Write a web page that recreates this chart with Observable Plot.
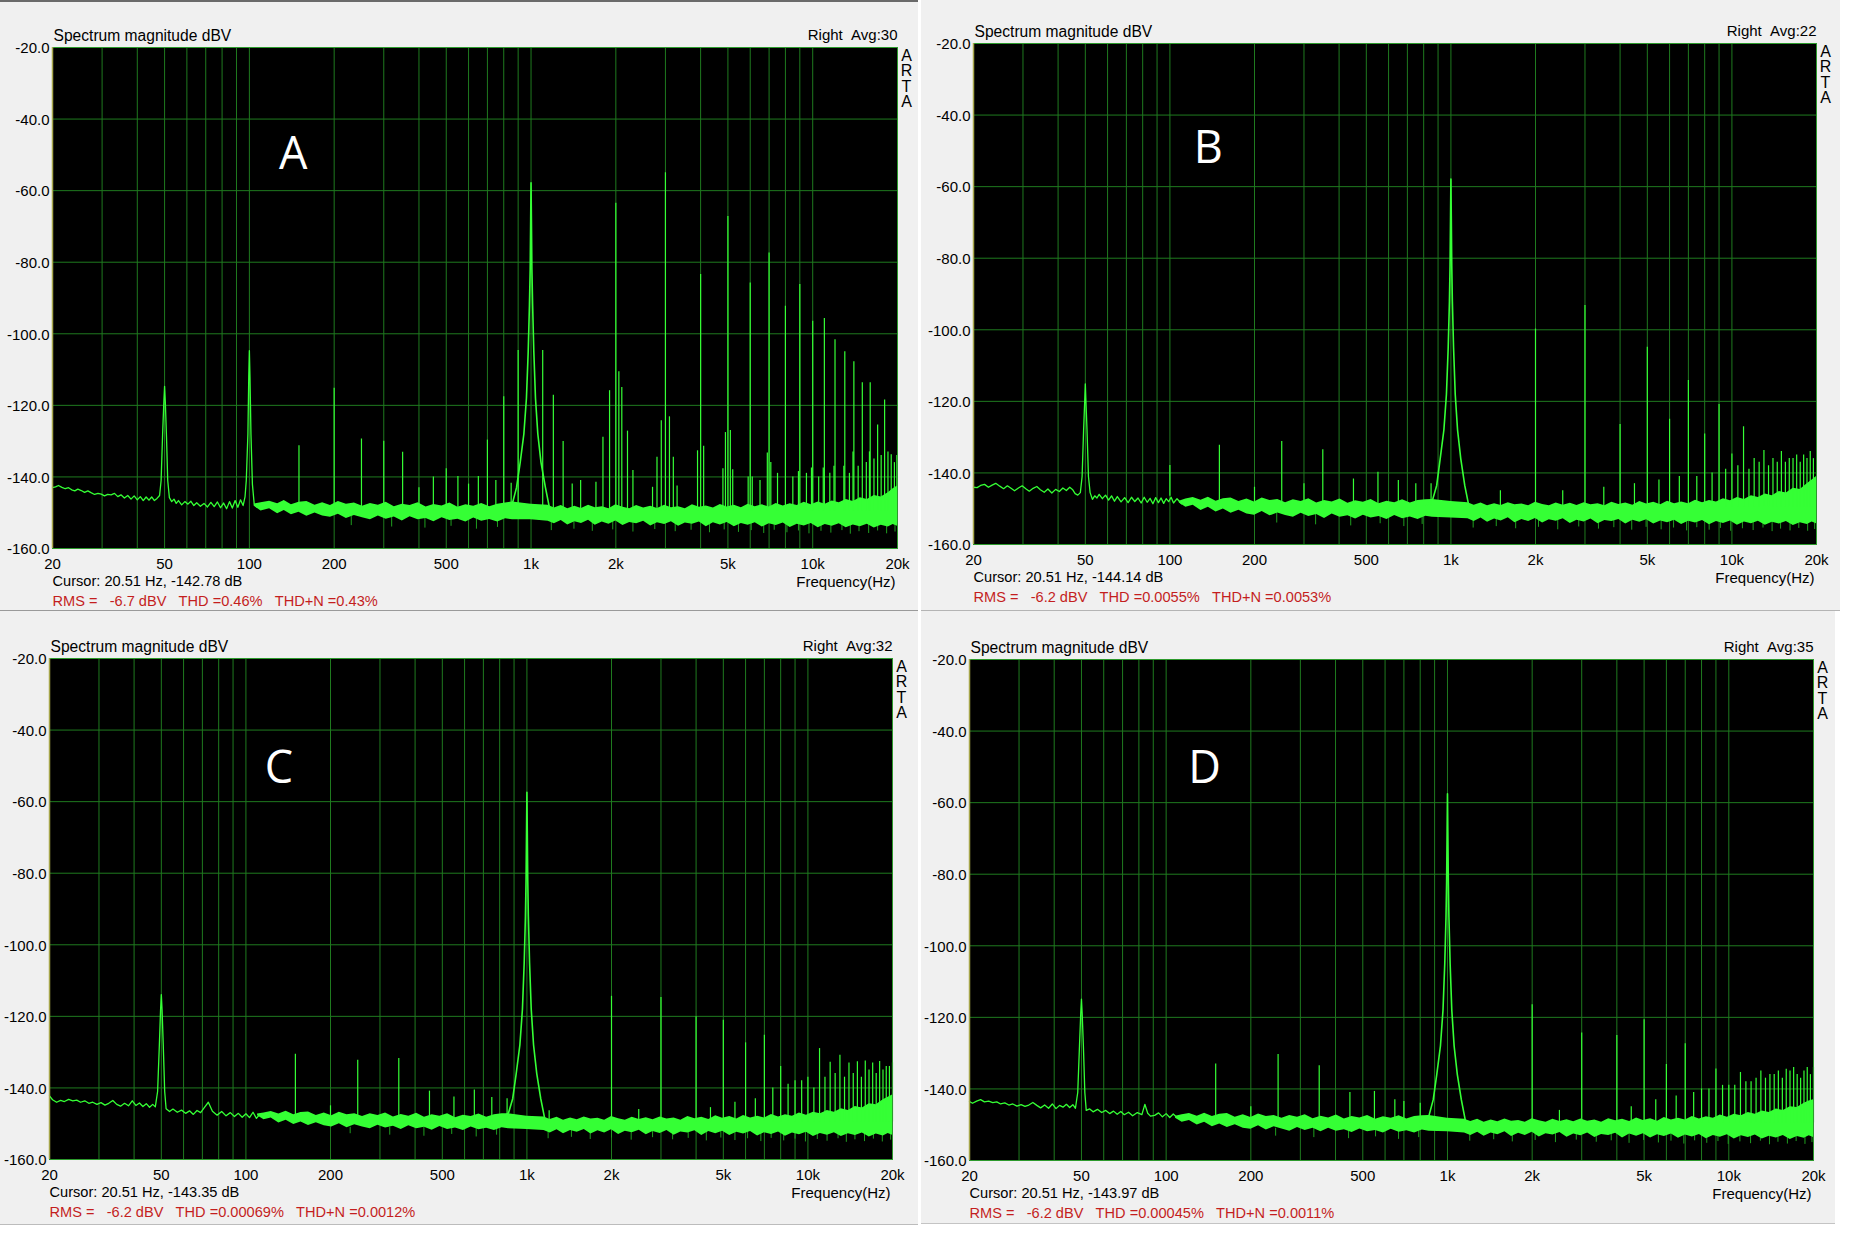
<!DOCTYPE html>
<html><head><meta charset="utf-8">
<script src="https://cdn.jsdelivr.net/npm/d3@7"></script>
<script src="https://cdn.jsdelivr.net/npm/@observablehq/plot@0.6"></script>
<style>
html,body{margin:0;padding:0;background:#fff;}
#root{position:relative;width:1850px;height:1250px;overflow:hidden;background:#fff;}
.win{position:absolute;background:#f0f0f0;}
.win svg{display:block;}
.sep{position:absolute;}
</style></head><body><div id="root"></div>
<script>
// ---------- axes / ticks ----------
const xTickValues = [20, 50, 100, 200, 500, 1000, 2000, 5000, 10000, 20000];
const xTickLabels = ["20", "50", "100", "200", "500", "1k", "2k", "5k", "10k", "20k"];
const dbTicks = [-20, -40, -60, -80, -100, -120, -140, -160];
const dbGrid = [-40, -60, -80, -100, -120, -140];
const gridFreqs = [30,40,50,60,70,80,90,100,200,300,400,500,600,700,800,900,1000,2000,3000,4000,5000,6000,7000,8000,9000,10000];

// ---------- texts ----------
const titleText = "Spectrum magnitude dBV";
const freqLabel = "Frequency(Hz)";
const artaText = "A\nR\nT\nA";
const avgTexts = ["Right  Avg:30", "Right  Avg:22", "Right  Avg:32", "Right  Avg:35"];
const cursorTexts = ["Cursor: 20.51 Hz, -142.78 dB", "Cursor: 20.51 Hz, -144.14 dB", "Cursor: 20.51 Hz, -143.35 dB", "Cursor: 20.51 Hz, -143.97 dB"];
const rmsTexts = [
  "RMS =   -6.7 dBV   THD =0.46%   THD+N =0.43%",
  "RMS =   -6.2 dBV   THD =0.0055%   THD+N =0.0053%",
  "RMS =   -6.2 dBV   THD =0.00069%   THD+N =0.0012%",
  "RMS =   -6.2 dBV   THD =0.00045%   THD+N =0.0011%"
];
// panel letter: [text, freq, dB]
const letters = [["A", 143, -50.0], ["B", 137, -49.5], ["C", 131, -50.8], ["D", 137, -50.5]];

// ---------- panel A data ----------
const lowA = [[20,-143.0],[20.5,-142.8],[21,-142.4],[21.6,-142.9],[22.2,-143.3],[22.8,-143.0],[23.4,-143.6],[24,-143.9],[24.6,-143.4],[25.3,-143.8],[26,-144.3],[26.7,-143.9],[27.4,-144.4],[28.2,-144.9],[29,-144.6],[29.8,-144.8],[30.6,-145.3],[31.4,-144.9],[32.3,-145.0],[33.2,-144.6],[34.1,-145.5],[35,-145.0],[36,-145.9],[37,-145.2],[38,-146.2],[39,-145.3],[40,-146.4],[41,-145.5],[42,-146.6],[43,-145.6],[44,-146.5],[45,-145.6],[46,-146.6],[47,-146.0],[48,-145.2],[48.6,-141],[49.2,-128],[49.7,-119],[50,-114.7],[50.3,-119],[50.8,-129],[51.3,-141],[52,-145.8],[53,-146.9],[54,-146.2],[55,-147.4],[56,-146.6],[57.5,-147.8],[59,-146.9],[60.5,-147.6],[62,-146.8],[63.5,-148.0],[65,-147.2],[67,-148.2],[69,-147.4],[71,-148.4],[73,-147.1],[75,-148.3],[77,-147.0],[79,-148.6],[81,-147.3],[83,-148.9],[85,-146.9],[87,-148.7],[89,-146.6],[91,-148.5],[93,-146.4],[95,-148.0],[96.5,-145.6],[97.5,-141],[98.8,-128],[99.5,-112],[100,-104.7],[100.5,-112],[101.3,-128],[102.5,-142],[104,-147.5],[106,-148.4],[108,-147.8],[110,-148.9]];
const bandA = [[104,-148.2,-147.6],[110,-149.5,-147.2],[118,-148.9,-146.8],[126,-150.3,-147.5],[133,-149.4,-146.6],[141,-150.6,-147.8],[150,-149.9,-147.1],[160,-151.0,-146.9],[171,-150.1,-147.9],[182,-150.9,-147.2],[194,-151.3,-148.0],[207,-150.4,-146.9],[221,-151.6,-147.6],[236,-150.8,-147.3],[252,-151.4,-148.2],[269,-152.0,-147.4],[287,-150.9,-147.9],[306,-151.8,-147.1],[327,-151.2,-148.3],[349,-152.3,-147.6],[372,-151.1,-148.0],[397,-152.0,-147.2],[424,-151.6,-148.4],[452,-152.5,-147.7],[483,-151.4,-148.1],[515,-152.2,-147.3],[550,-151.8,-148.5],[587,-152.6,-147.8],[626,-151.5,-148.2],[668,-152.4,-147.4],[713,-151.9,-148.3],[761,-152.6,-147.6],[812,-151.7,-147.3],[860,-152.0,-147.0],[1000,-152.0,-147.6],[1150,-152.4,-147.9],[1210,-153.1,-148.7],[1280,-152.2,-148.0],[1350,-153.4,-148.9],[1430,-152.5,-148.2],[1510,-153.0,-148.8],[1600,-152.1,-147.9],[1690,-153.5,-148.6],[1790,-152.6,-148.3],[1890,-153.2,-148.9],[2000,-152.3,-147.8],[2120,-153.6,-148.5],[2240,-152.7,-148.9],[2370,-153.1,-148.0],[2510,-152.4,-148.7],[2660,-153.7,-148.2],[2810,-152.8,-148.8],[2980,-153.3,-147.9],[3150,-152.5,-148.6],[3340,-153.8,-148.3],[3530,-152.9,-148.9],[3740,-153.2,-147.8],[3960,-152.6,-148.5],[4190,-153.9,-148.1],[4440,-152.8,-148.7],[4700,-153.4,-147.7],[4970,-152.7,-148.4],[5270,-153.9,-147.9],[5580,-153.0,-148.6],[5900,-153.5,-147.6],[6250,-152.8,-148.3],[6620,-154.0,-147.8],[7010,-153.1,-148.4],[7420,-153.6,-147.4],[7860,-152.9,-148.1],[8320,-154.1,-147.5],[8810,-153.2,-148.0],[9330,-153.7,-147.1],[9880,-153.0,-147.8],[10460,-154.2,-147.0],[11080,-153.3,-147.6],[11730,-153.8,-146.7],[12420,-153.1,-147.2],[13150,-154.2,-146.3],[13930,-153.4,-146.9],[14750,-153.9,-145.8],[15620,-153.2,-146.3],[16540,-154.3,-145.2],[17510,-153.5,-145.6],[18540,-154.0,-144.4],[19300,-153.3,-143.3],[20000,-153.8,-142.5]];
const dipsA = [[230,-153.6],[320,-154.0],[420,-154.3],[520,-153.8],[640,-154.6],[760,-154.1],[1180,-155.0],[1420,-154.6],[1650,-155.2],[1950,-154.8],[2300,-155.4],[2750,-154.7],[3250,-155.3],[3700,-154.9],[4300,-155.6],[4850,-154.8],[5450,-155.5],[6050,-155.0],[6700,-155.8],[7300,-154.9],[8100,-155.6],[8900,-155.1],[9700,-155.9],[10700,-155.2],[11600,-155.7],[12700,-155.0],[13600,-156.0],[14600,-155.3],[15800,-155.8],[17000,-155.1],[18300,-155.9],[19600,-155.4]];
const skirtA = [[820,-148.8],[860,-147.2],[888,-143],[915,-136],[943,-128],[963,-118],[977,-105],[987,-92],[993,-82],[997,-68],[1000,-57.8],[1003,-68],[1007,-82],[1013,-92],[1023,-105],[1037,-118],[1057,-128],[1085,-136],[1125,-143],[1165,-149]];
const spikesA = [[150,-131.3],[200,-115.2],[250,-129.4],[300,-130],[350,-133.1],[400,-143],[450,-140],[500,-137.7],[550,-139.9],[600,-142],[650,-139.9],[700,-129.7],[750,-141],[800,-117.6],[850,-141.8],[900,-104.7],[1100,-104.7],[1200,-117.2],[1300,-130.1],[1400,-142],[1500,-141],[1700,-141.5],[1800,-128.9],[1900,-115.9],[2000,-63.5],[2050,-110.6],[2100,-115],[2200,-127.2],[2300,-138.2],[2700,-142.9],[2800,-134.5],[2900,-124.3],[3000,-55.0],[3100,-123.2],[3200,-134.5],[3300,-142.5],[3900,-132.7],[4000,-83.4],[4100,-131.4],[4800,-137.7],[4900,-127.6],[5000,-67.2],[5100,-127],[5200,-138],[5900,-140],[6000,-85.8],[6100,-140],[6500,-141],[6900,-133.3],[7000,-77.4],[7100,-136],[7500,-139],[8000,-92.3],[8500,-140],[8900,-138.5],[9000,-86.2],[9500,-139],[9900,-137.5],[10000,-96.5],[10500,-140],[10900,-137.5],[11000,-95.7],[11500,-139],[11900,-137],[12000,-101.7],[12900,-137],[13000,-105],[13500,-139],[13900,-133],[14000,-107.8],[14500,-137],[15000,-113.7],[15500,-136],[15900,-133],[16000,-113.7],[16500,-135],[17000,-125.5],[17500,-134],[18000,-118.5],[18500,-133],[19000,-133.8],[19500,-136],[19900,-134]];

// ---------- panel B data ----------
const lowB = [[20,-144.0],[20.6,-144.1],[21.2,-143.5],[21.9,-143.2],[22.6,-144.0],[23.3,-143.4],[24,-142.9],[24.8,-143.7],[25.6,-144.4],[26.4,-143.6],[27.2,-144.3],[28,-145.0],[28.9,-144.2],[29.8,-143.6],[30.7,-144.4],[31.6,-145.1],[32.6,-144.3],[33.6,-143.8],[34.6,-144.7],[35.7,-145.4],[36.8,-144.5],[38,-145.6],[39.2,-144.6],[40.4,-145.2],[41.6,-144.2],[42.8,-144.9],[44,-144.0],[45,-144.6],[46,-145.8],[47,-146.2],[48,-145.5],[48.7,-141],[49.3,-128],[49.8,-119],[50,-115.1],[50.2,-119],[50.7,-128],[51.3,-141],[52,-145.5],[53,-147.4],[54,-146.4],[55,-147.0],[56,-146.0],[57.5,-147.2],[59,-146.2],[60.5,-147.6],[62,-146.4],[63.5,-147.9],[65,-146.6],[67,-148.1],[69,-146.9],[71,-148.3],[73,-146.8],[75,-148.0],[77,-147.0],[79,-148.4],[81,-146.8],[83,-148.2],[85,-147.1],[87,-148.6],[89,-146.9],[91,-148.3],[93,-147.0],[95,-148.5],[97,-147.2],[99,-148.0],[101,-146.8],[103,-148.4],[106,-147.2],[110,-148.6]];
const bandB = [[108,-148.4,-147.9],[114,-149.6,-147.3],[121,-149.0,-146.9],[129,-150.5,-147.6],[137,-149.6,-146.8],[146,-150.9,-147.9],[155,-150.1,-147.2],[165,-151.3,-147.0],[176,-150.4,-148.0],[188,-151.5,-147.3],[200,-151.8,-148.1],[213,-150.8,-147.0],[227,-152.0,-147.7],[242,-151.2,-147.4],[258,-151.9,-148.3],[275,-152.4,-147.5],[293,-151.3,-148.0],[312,-152.2,-147.2],[333,-151.6,-148.4],[355,-152.7,-147.7],[378,-151.5,-148.1],[403,-152.4,-147.3],[430,-152.0,-148.5],[458,-152.9,-147.8],[488,-151.8,-148.2],[520,-152.6,-147.4],[555,-152.2,-148.6],[592,-153.0,-147.9],[631,-151.9,-148.3],[673,-152.8,-147.5],[717,-152.3,-148.4],[764,-153.0,-147.7],[814,-152.1,-147.5],[860,-152.4,-147.4],[1000,-152.6,-148.0],[1150,-152.8,-148.3],[1210,-153.6,-149.0],[1280,-152.6,-148.4],[1350,-153.8,-149.2],[1430,-152.9,-148.6],[1510,-153.4,-149.1],[1600,-152.5,-148.3],[1690,-153.9,-148.9],[1790,-153.0,-148.7],[1890,-153.6,-149.2],[2000,-152.7,-148.2],[2120,-154.0,-148.8],[2240,-153.1,-149.2],[2370,-153.5,-148.4],[2510,-152.8,-149.0],[2660,-154.1,-148.5],[2810,-153.2,-149.1],[2980,-153.7,-148.3],[3150,-152.9,-148.9],[3340,-154.2,-148.6],[3530,-153.3,-149.2],[3740,-153.6,-148.2],[3960,-153.0,-148.8],[4190,-154.3,-148.4],[4440,-153.2,-149.0],[4700,-153.8,-148.0],[4970,-153.1,-148.7],[5270,-154.3,-148.2],[5580,-153.4,-148.9],[5900,-153.9,-147.9],[6250,-153.2,-148.6],[6620,-154.4,-148.1],[7010,-153.5,-148.6],[7420,-154.0,-147.6],[7860,-153.3,-148.3],[8320,-154.5,-147.7],[8810,-153.6,-148.1],[9330,-154.1,-147.2],[9880,-153.4,-147.8],[10460,-154.6,-146.9],[11080,-153.7,-147.4],[11730,-154.2,-146.4],[12420,-153.5,-146.9],[13150,-154.6,-145.9],[13930,-153.8,-146.4],[14750,-154.3,-145.2],[15620,-153.6,-145.6],[16540,-154.7,-144.3],[17510,-153.9,-144.6],[18540,-154.4,-143.0],[19300,-153.7,-142.0],[20000,-154.2,-141.0]];
const dipsB = [[240,-154.0],[330,-154.5],[440,-154.8],[560,-154.2],[680,-155.0],[790,-154.4],[1200,-155.4],[1450,-155.0],[1700,-155.6],[2050,-155.2],[2400,-155.9],[2850,-155.1],[3350,-155.7],[3800,-155.3],[4400,-156.0],[4950,-155.2],[5600,-155.9],[6200,-155.4],[6900,-156.2],[7500,-155.3],[8300,-156.0],[9100,-155.5],[9900,-156.3],[10900,-155.6],[11900,-156.1],[12900,-155.4],[13900,-156.4],[14900,-155.7],[16100,-156.2],[17300,-155.5],[18600,-156.3],[19700,-155.8]];
const skirtB = [[820,-149],[860,-147.6],[890,-143.5],[916,-136],[944,-128],[964,-118],[978,-105],[988,-92],[993,-82],[997,-68],[1000,-57.9],[1003,-68],[1007,-82],[1012,-92],[1022,-105],[1036,-118],[1056,-128],[1084,-136],[1120,-143.5],[1160,-149.5]];
const spikesB = [[100,-137.9],[150,-132.3],[200,-144],[250,-131.2],[300,-143],[350,-133.5],[450,-141.7],[550,-139.8],[650,-142.1],[750,-143],[850,-143],[1500,-145],[2000,-99.8],[2500,-145],[3000,-93.2],[3500,-144],[4000,-126.5],[4500,-143],[5000,-104.9],[5500,-142],[6000,-125],[6500,-141],[7000,-114.2],[7500,-141],[8000,-129.1],[8500,-140],[9000,-120.9],[9500,-139],[10000,-134.7],[10500,-138],[11000,-127.1],[11500,-139],[12000,-136],[12500,-137],[13000,-133.7],[13500,-138],[14000,-136],[14500,-137],[15000,-134],[15500,-137],[16000,-136],[16500,-136],[17000,-135],[17500,-137],[18000,-135],[18500,-136],[19000,-134],[19500,-136]];

// ---------- panel C data ----------
const lowC = [[20,-142.2],[20.5,-143.3],[21.2,-144.0],[21.9,-143.5],[22.6,-143.8],[23.4,-143.2],[24.2,-143.6],[25,-143.4],[25.8,-144.0],[26.7,-143.6],[27.6,-144.3],[28.5,-144.0],[29.5,-144.6],[30.5,-144.1],[31.5,-144.8],[32.5,-144.3],[33.6,-143.5],[34.7,-144.6],[35.8,-145.1],[37,-144.3],[38.2,-145.0],[39.4,-143.6],[40.6,-144.9],[41.8,-144.2],[43,-145.2],[44.2,-144.4],[45.4,-145.4],[46.6,-144.6],[47.6,-145.3],[48.5,-141],[49.2,-128],[49.7,-118],[50,-113.9],[50.3,-118],[50.8,-128],[51.4,-141],[52,-145.8],[53.5,-146.6],[55,-145.9],[57,-146.8],[59,-146.2],[61,-147.1],[63,-146.4],[65,-147.4],[67,-146.3],[69,-146.9],[71,-145.6],[73.5,-144.0],[76,-146.5],[79,-147.6],[82,-146.6],[85,-147.8],[88,-146.9],[91,-148.0],[94,-147.1],[97,-148.2],[100,-147.2],[103,-148.3],[106,-146.8],[109,-148.5],[112,-147.4]];
const bandC = [[110,-147.8,-147.3],[116,-148.9,-147.0],[123,-148.4,-146.6],[131,-149.8,-147.3],[139,-149.0,-146.5],[148,-150.2,-147.5],[157,-149.5,-146.9],[167,-150.5,-146.7],[178,-149.7,-147.7],[190,-150.6,-147.0],[202,-150.9,-147.8],[215,-150.0,-146.8],[229,-151.1,-147.5],[244,-150.3,-147.2],[260,-150.9,-148.0],[277,-151.4,-147.2],[295,-150.4,-147.7],[314,-151.2,-147.0],[335,-150.7,-148.1],[357,-151.6,-147.4],[380,-150.6,-147.9],[405,-151.4,-147.1],[432,-151.0,-148.2],[460,-151.8,-147.5],[490,-150.8,-147.9],[522,-151.6,-147.2],[557,-151.2,-148.3],[594,-151.9,-147.6],[633,-150.9,-148.0],[675,-151.7,-147.3],[719,-151.3,-148.2],[766,-151.9,-147.5],[816,-151.1,-147.2],[860,-151.4,-147.2],[1000,-151.6,-147.9],[1150,-151.9,-148.1],[1210,-152.6,-148.8],[1280,-151.7,-148.2],[1350,-152.8,-149.0],[1430,-151.9,-148.4],[1510,-152.4,-148.9],[1600,-151.6,-148.1],[1690,-152.9,-148.7],[1790,-152.0,-148.5],[1890,-152.6,-149.0],[2000,-151.7,-148.0],[2120,-153.0,-148.6],[2240,-152.1,-149.0],[2370,-152.5,-148.2],[2510,-151.8,-148.8],[2660,-153.1,-148.3],[2810,-152.2,-148.9],[2980,-152.7,-148.1],[3150,-151.9,-148.7],[3340,-153.2,-148.4],[3530,-152.3,-149.0],[3740,-152.6,-148.0],[3960,-152.0,-148.6],[4190,-153.3,-148.2],[4440,-152.2,-148.8],[4700,-152.8,-147.8],[4970,-152.1,-148.5],[5270,-153.3,-148.0],[5580,-152.4,-148.7],[5900,-152.9,-147.7],[6250,-152.2,-148.4],[6620,-153.4,-147.9],[7010,-152.5,-148.4],[7420,-153.0,-147.4],[7860,-152.3,-148.1],[8320,-153.5,-147.5],[8810,-152.6,-147.9],[9330,-153.1,-147.0],[9880,-152.4,-147.6],[10460,-153.6,-146.8],[11080,-152.7,-147.2],[11730,-153.2,-146.3],[12420,-152.5,-146.8],[13150,-153.6,-145.8],[13930,-152.8,-146.3],[14750,-153.3,-145.2],[15620,-152.6,-145.6],[16540,-153.7,-144.4],[17510,-152.9,-144.7],[18540,-153.4,-143.3],[19300,-152.7,-142.6],[20000,-153.2,-142.0]];
const dipsC = [[235,-152.8],[325,-153.2],[430,-153.5],[540,-153.0],[660,-153.7],[780,-153.2],[1190,-154.2],[1440,-153.8],[1680,-154.4],[2000,-154.0],[2350,-154.6],[2800,-153.9],[3300,-154.5],[3750,-154.1],[4350,-154.8],[4900,-154.0],[5500,-154.7],[6100,-154.2],[6800,-155.0],[7400,-154.1],[8200,-154.8],[9000,-154.3],[9800,-155.1],[10800,-154.4],[11700,-154.9],[12800,-154.2],[13700,-155.2],[14700,-154.5],[15900,-155.0],[17100,-154.3],[18400,-155.1],[19700,-154.6]];
const skirtC = [[820,-148.4],[860,-147.0],[890,-143],[916,-136],[944,-128],[964,-118],[978,-105],[988,-92],[993,-82],[997,-68],[1000,-57.4],[1003,-68],[1007,-82],[1012,-92],[1022,-105],[1036,-118],[1056,-128],[1084,-136],[1120,-143],[1160,-149]];
const spikesC = [[150,-130.6],[200,-145],[250,-132.3],[350,-131.8],[450,-140.9],[550,-142.5],[650,-140.6],[750,-142.7],[850,-143],[1200,-146.4],[2000,-114.4],[2500,-146],[3000,-114.7],[4000,-120.1],[4500,-145.5],[5000,-121.1],[5500,-144],[6000,-127.4],[6500,-143],[7000,-125.3],[7500,-140],[8000,-134],[8500,-139],[9000,-138],[9500,-138],[10000,-137],[10500,-140],[11000,-129],[11500,-137],[12000,-132.8],[12500,-136],[13000,-130.9],[13500,-137],[14000,-133],[14500,-136],[15000,-132.7],[15500,-137],[16000,-132.5],[16500,-135],[17000,-133],[17500,-136],[18000,-132.6],[18500,-135],[19000,-134],[19500,-134],[20000,-133]];

// ---------- panel D data ----------
const lowD = [[20,-143.5],[20.5,-144.0],[21.2,-143.4],[21.9,-143.0],[22.6,-143.6],[23.4,-143.4],[24.2,-143.8],[25,-143.6],[25.8,-144.2],[26.7,-143.9],[27.6,-144.5],[28.5,-144.2],[29.5,-144.8],[30.5,-144.4],[31.5,-144.9],[32.5,-144.5],[33.6,-143.8],[34.7,-144.6],[35.8,-145.3],[37,-144.5],[38.2,-145.4],[39.4,-144.2],[40.6,-145.5],[41.8,-144.6],[43,-145.1],[44.2,-144.3],[45.4,-145.2],[46.6,-144.4],[47.6,-145.4],[48.5,-141],[49.2,-128],[49.7,-119],[50,-114.9],[50.3,-119],[50.8,-128],[51.4,-141],[52,-146.0],[53.5,-145.6],[55,-146.4],[57,-145.7],[59,-146.6],[61,-146.0],[63,-146.9],[65,-146.2],[67,-147.1],[69,-146.3],[71,-147.2],[73.5,-146.5],[76,-147.5],[79,-146.6],[82,-147.2],[84,-144.3],[86,-146.8],[88,-147.6],[91,-147.4],[94,-146.7],[97,-147.8],[100,-146.9],[103,-148.0],[106,-147.0],[110,-148.2]];
const bandD = [[108,-148.2,-147.6],[114,-149.3,-147.2],[121,-148.8,-146.9],[129,-150.1,-147.6],[137,-149.3,-146.8],[146,-150.6,-147.7],[155,-149.8,-147.1],[165,-150.8,-146.9],[176,-150.0,-147.9],[188,-151.0,-147.2],[200,-151.3,-148.0],[213,-150.3,-147.0],[227,-151.5,-147.7],[242,-150.6,-147.4],[258,-151.2,-148.2],[275,-151.8,-147.4],[293,-150.8,-147.9],[312,-151.6,-147.2],[333,-151.0,-148.3],[355,-152.0,-147.6],[378,-151.0,-148.1],[403,-151.8,-147.3],[430,-151.4,-148.4],[458,-152.2,-147.7],[488,-151.2,-148.1],[520,-152.0,-147.4],[555,-151.6,-148.5],[592,-152.3,-147.8],[631,-151.3,-148.2],[673,-152.1,-147.5],[717,-151.7,-148.4],[764,-152.3,-147.7],[814,-151.5,-147.5],[860,-151.8,-147.4],[1000,-152.0,-148.2],[1150,-152.3,-148.5],[1210,-153.0,-149.1],[1280,-152.1,-148.5],[1350,-153.2,-149.3],[1430,-152.3,-148.7],[1510,-152.8,-149.2],[1600,-152.0,-148.4],[1690,-153.3,-149.0],[1790,-152.4,-148.8],[1890,-153.0,-149.3],[2000,-152.1,-148.3],[2120,-153.4,-148.9],[2240,-152.5,-149.3],[2370,-152.9,-148.5],[2510,-152.2,-149.1],[2660,-153.5,-148.6],[2810,-152.6,-149.2],[2980,-153.1,-148.4],[3150,-152.3,-149.0],[3340,-153.6,-148.7],[3530,-152.7,-149.3],[3740,-153.0,-148.3],[3960,-152.4,-148.9],[4190,-153.7,-148.5],[4440,-152.6,-149.1],[4700,-153.2,-148.1],[4970,-152.5,-148.8],[5270,-153.7,-148.3],[5580,-152.8,-149.0],[5900,-153.3,-148.0],[6250,-152.6,-148.7],[6620,-153.8,-148.2],[7010,-152.9,-148.7],[7420,-153.4,-147.7],[7860,-152.7,-148.4],[8320,-153.9,-147.8],[8810,-153.0,-148.2],[9330,-153.5,-147.3],[9880,-152.8,-147.9],[10460,-154.0,-147.1],[11080,-153.1,-147.5],[11730,-153.6,-146.6],[12420,-152.9,-147.1],[13150,-154.0,-146.2],[13930,-153.2,-146.6],[14750,-153.7,-145.6],[15620,-153.0,-146.0],[16540,-154.1,-145.0],[17510,-153.3,-145.2],[18540,-153.8,-144.0],[19300,-153.1,-143.4],[20000,-153.6,-143.0]];
const dipsD = [[245,-153.2],[335,-153.6],[445,-153.9],[555,-153.4],[670,-154.1],[790,-153.6],[1200,-154.6],[1460,-154.2],[1700,-154.8],[2050,-154.4],[2420,-155.0],[2870,-154.3],[3380,-154.9],[3820,-154.5],[4420,-155.2],[4980,-154.4],[5620,-155.1],[6230,-154.6],[6920,-155.4],[7560,-154.5],[8350,-155.2],[9150,-154.7],[9950,-155.5],[10950,-154.8],[11950,-155.3],[12950,-154.6],[13950,-155.6],[14950,-154.9],[16150,-155.4],[17350,-154.7],[18650,-155.5],[19750,-155.0]];
const skirtD = [[820,-148.8],[860,-147.4],[890,-143],[916,-136],[944,-128],[964,-118],[978,-105],[988,-92],[993,-82],[997,-68],[1000,-57.5],[1003,-68],[1007,-82],[1012,-92],[1022,-105],[1036,-118],[1056,-128],[1084,-136],[1120,-143],[1160,-149.2]];
const spikesD = [[150,-133],[200,-145],[250,-130.4],[350,-133.5],[450,-141],[550,-140.7],[650,-143],[700,-143.5],[800,-144],[2000,-116.5],[2500,-146],[3000,-124.4],[4000,-125.1],[4500,-145],[5000,-120.7],[5500,-143],[6000,-133.2],[6500,-142],[7000,-127.4],[7500,-141],[8000,-140],[8500,-140],[9000,-134.4],[9500,-139],[10000,-139],[10500,-139],[11000,-135.4],[11500,-138],[12000,-138],[12500,-137],[13000,-135],[13500,-137],[14000,-136],[14500,-136],[15000,-135],[15500,-137],[16000,-134.5],[16500,-135],[17000,-134],[17500,-136],[18000,-137],[18500,-135],[19000,-134],[19500,-136],[20000,-134]];

// ---------- layout (window rectangles and plot margins) ----------
const layout = [
  {left: 0,   top: 0,   w: 918, h: 611, ml: 52, mr: 21, mt: 47, mb: 63},
  {left: 921, top: 0,   w: 919, h: 611, ml: 52, mr: 24, mt: 43, mb: 67},
  {left: 0,   top: 611, w: 918, h: 613, ml: 49, mr: 26, mt: 47, mb: 65},
  {left: 921, top: 611, w: 914, h: 612, ml: 48, mr: 22, mt: 48, mb: 63}
];
const seriesSets = [
  {low: lowA, band: bandA, dips: dipsA, skirt: skirtA, spikes: spikesA},
  {low: lowB, band: bandB, dips: dipsB, skirt: skirtB, spikes: spikesB},
  {low: lowC, band: bandC, dips: dipsC, skirt: skirtC, spikes: spikesC},
  {low: lowD, band: bandD, dips: dipsD, skirt: skirtD, spikes: spikesD}
];

const TRACE = "#35ff35";
const FRINGE = "#1f9e1f";
const GRID = "#1f7a1f";
const FRAME = "#2c9a2c";
const RED = "#c41e1e";
const FONT = "'Liberation Sans', Arial, sans-serif";
const keepSpaces = s => s.replace(/ {2,}/g, m => "\u00a0".repeat(m.length));

const root = document.getElementById("root");

function drawPanel(i) {
  const L = layout[i], S = seriesSets[i];
  const fx = d => d[0];
  const chart = Plot.plot({
    width: L.w, height: L.h,
    marginLeft: L.ml, marginRight: L.mr, marginTop: L.mt, marginBottom: L.mb,
    style: {background: "#f0f0f0", fontFamily: FONT, fontSize: "15px", color: "#000", overflow: "visible"},
    x: {type: "log", domain: [20, 20000], axis: null},
    y: {domain: [-160, -20], axis: null},
    marks: [
      Plot.frame({fill: "#000", stroke: "none"}),
      Plot.ruleX(gridFreqs, {stroke: GRID, strokeWidth: 1}),
      Plot.ruleY(dbGrid, {stroke: GRID, strokeWidth: 1}),
      Plot.ruleX(S.dips, {x: fx, y1: -151, y2: d => d[1], stroke: FRINGE, strokeWidth: 1}),
      Plot.areaY(S.band, {x: fx, y1: d => d[1], y2: d => d[2], fill: TRACE}),
      Plot.ruleX(S.spikes, {x: fx, y1: d => d[0] < 120 ? -146.5 : -149.5, y2: d => d[1], stroke: TRACE, strokeWidth: 1.2}),
      Plot.line(S.low, {x: fx, y: d => d[1], stroke: TRACE, strokeWidth: 1.3}),
      Plot.line(S.skirt, {x: fx, y: d => d[1], stroke: TRACE, strokeWidth: 1.6}),
      Plot.frame({stroke: FRAME, strokeWidth: 1}),
      Plot.ruleX([20], {stroke: "#a6a64a", strokeWidth: 1.5}),
      Plot.text([letters[i]], {x: d => d[1], y: d => d[2], text: d => d[0], fill: "#fff", fontSize: 45, fontFamily: "'Open Sans', sans-serif"}),
      Plot.text(xTickValues, {x: d => d, frameAnchor: "bottom", lineAnchor: "middle", dy: 16, fontSize: 15, text: (d, j) => xTickLabels[j]}),
      Plot.text(dbTicks, {y: d => d, frameAnchor: "left", textAnchor: "end", lineAnchor: "middle", dx: -3, dy: 1, fontSize: 15, text: d => d.toFixed(1)}),
      Plot.text([titleText], {text: d => d, frameAnchor: "top-left", lineAnchor: "middle", dx: 1, dy: -12, fontSize: 15.6}),
      Plot.text([avgTexts[i]], {text: d => keepSpaces(d), frameAnchor: "top-right", lineAnchor: "middle", dx: 0, dy: -12, fontSize: 15}),
      Plot.text([artaText], {text: d => d, frameAnchor: "top-right", dx: 9, dy: 3, lineAnchor: "top", textAnchor: "middle", lineHeight: 0.95, fontSize: 16}),
      Plot.text([cursorTexts[i]], {text: d => d, frameAnchor: "bottom-left", lineAnchor: "middle", dy: 33, fontSize: 14.6}),
      Plot.text([rmsTexts[i]], {text: d => keepSpaces(d), frameAnchor: "bottom-left", lineAnchor: "middle", dy: 53, fontSize: 14.6, fill: RED}),
      Plot.text([freqLabel], {text: d => d, frameAnchor: "bottom-right", lineAnchor: "middle", dx: -2, dy: 34, fontSize: 15})
    ]
  });
  const win = document.createElement("div");
  win.className = "win";
  win.style.left = L.left + "px";
  win.style.top = L.top + "px";
  win.style.width = L.w + "px";
  win.style.height = L.h + "px";
  win.appendChild(chart);
  root.appendChild(win);
}
[0, 1, 2, 3].forEach(drawPanel);

// window separator lines
const seps = [
  [0, 0, 918, 2, "#6a6a6a"],
  [0, 610, 918, 1, "#9a9a9a"],
  [921, 610, 919, 1, "#b4b4b4"],
  [0, 1224, 918, 1, "#bcbcbc"],
  [921, 1223, 914, 1, "#c4c4c4"]
];
seps.forEach(([x, y, w, h, c]) => {
  const d = document.createElement("div");
  d.className = "sep";
  Object.assign(d.style, {left: x + "px", top: y + "px", width: w + "px", height: h + "px", background: c});
  root.appendChild(d);
});
</script></body></html>
